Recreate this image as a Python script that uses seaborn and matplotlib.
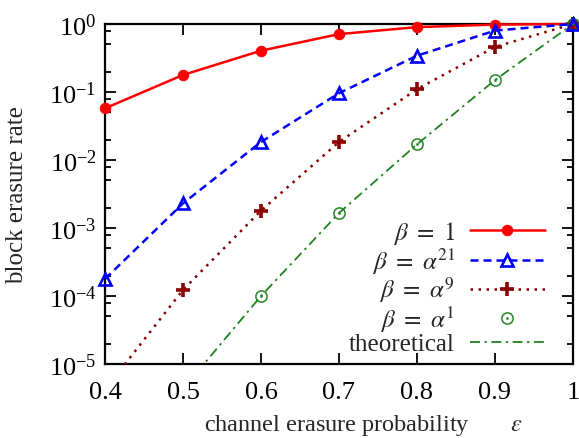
import matplotlib
matplotlib.use('Agg')
import matplotlib.pyplot as plt
import seaborn as sns
from matplotlib.ticker import LogLocator, FixedLocator, NullLocator, LogFormatterMathtext
from matplotlib.transforms import Bbox, TransformedBbox

# data
eps = [0.4, 0.5, 0.6, 0.7, 0.8, 0.9, 1.0]
beta_one = [0.0575, 0.178, 0.405, 0.71, 0.90, 0.98, 1.0]
beta_a21 = [1.78e-4, 2.3e-3, 0.0184, 0.096, 0.342, 0.80, 1.0]
beta_a9 = [4.2e-6, 1.23e-4, 1.8e-3, 0.0184, 0.11, 0.46, 1.0]
eps_a1 = [0.6, 0.7, 0.8, 0.9, 1.0]
beta_a1 = [1.0e-4, 1.66e-3, 0.017, 0.15, 1.0]
eps_theory = [0.5, 0.6, 0.7, 0.8, 0.9, 1.0]
theory = [4.3e-6, 1.0e-4, 1.66e-3, 0.017, 0.15, 1.0]

x_ticks = [0.4, 0.5, 0.6, 0.7, 0.8, 0.9, 1.0]
x_ticklabels = ['0.4', '0.5', '0.6', '0.7', '0.8', '0.9', '1']

sns.set_style('ticks')
plt.rcParams['font.family'] = ['Liberation Serif', 'DejaVu Serif']
plt.rcParams['mathtext.fontset'] = 'stix'
plt.rcParams['axes.unicode_minus'] = False

fig = plt.figure(figsize=(5.79, 4.39), dpi=100)
ax = fig.add_axes([105 / 579, 1 - 365 / 439, 468 / 579, 340 / 439])
ax.set_yscale('log')

sns.lineplot(x=eps, y=beta_one, ax=ax, color='#ff0000', lw=1.8, marker='o', ms=7.5,
             markeredgecolor='#ff0000', label=r'$\beta\ =\ 1$', clip_on=False, zorder=3)
sns.lineplot(x=eps, y=beta_a21, ax=ax, color='#0000ff', lw=1.8, linestyle=(0, (3.2, 2)),
             marker='^', ms=9, mfc='none', markeredgecolor='#0000ff', mew=1.9,
             label=r'$\beta\ =\ \alpha^{21}$', clip_on=False, zorder=4)
sns.lineplot(x=eps, y=beta_a9, ax=ax, color='#8b0000', lw=1.8, linestyle=(0, (1, 2.2)),
             marker='P', ms=0.1, label=r'$\beta\ =\ \alpha^{9}$', zorder=3)
l9 = ax.lines[-1]
l9.set_marker('+')
l9.set_markersize(9.5)
l9.set_markeredgewidth(2.6)
l9.set_markeredgecolor('#8b0000')
sns.lineplot(x=eps_a1, y=beta_a1, ax=ax, color='#1f821f', linestyle='none',
             marker=r'$\odot$', ms=9, markeredgecolor='#1f821f', mew=0.2,
             label=r'$\beta\ =\ \alpha^{1}$', zorder=3)
la1 = ax.lines[-1]
sns.lineplot(x=eps_theory, y=theory, ax=ax, color='#1f821f', lw=1.3,
             linestyle=(0, (5.5, 2.5, 1.3, 2.5)), label='theoretical', zorder=2)
lth = ax.lines[-1]

# let markers poke out at the top/right, but keep the bottom clipped
clip = TransformedBbox(Bbox([[-0.05, 0.0], [1.05, 1.05]]), ax.transAxes)
for ln in (l9, la1, lth):
    ln.set_clip_box(clip)

ax.set_xlim(0.4, 1.0)
ax.set_ylim(1e-5, 1)
ax.xaxis.set_major_locator(FixedLocator(x_ticks))
ax.set_xticklabels(x_ticklabels)
ax.xaxis.set_minor_locator(NullLocator())
ax.yaxis.set_major_locator(LogLocator(base=10, numticks=10))
ax.yaxis.set_minor_locator(LogLocator(base=10, subs=(2, 5, 8), numticks=20))
ax.yaxis.set_major_formatter(LogFormatterMathtext())

ax.tick_params(which='both', direction='in', top=True, right=True, width=1.3,
               labelsize=19, colors='black')
ax.tick_params(which='major', length=8)
ax.tick_params(which='minor', length=4.3)
ax.tick_params(axis='x', which='major', pad=12)
ax.tick_params(axis='y', which='major', pad=6)
for sp in ax.spines.values():
    sp.set_visible(True)
    sp.set_linewidth(1.6)
    sp.set_color('black')

ax.set_xlabel('channel erasure probability       $\\epsilon$', fontsize=17.5)
ax.xaxis.set_label_coords(0.553, -0.142)
ax.set_ylabel('block erasure rate', fontsize=18)
ax.yaxis.set_label_coords(-0.165, 0.5)

h, lab = ax.get_legend_handles_labels()
leg = ax.legend(h, lab, loc='lower right', bbox_to_anchor=(0.945, 0.018),
                frameon=False, markerfirst=False, fontsize=18, handlelength=3.0,
                handletextpad=0.6, labelspacing=-0.04, borderpad=0.1, borderaxespad=0)

fig.savefig('out.png', dpi=100)
